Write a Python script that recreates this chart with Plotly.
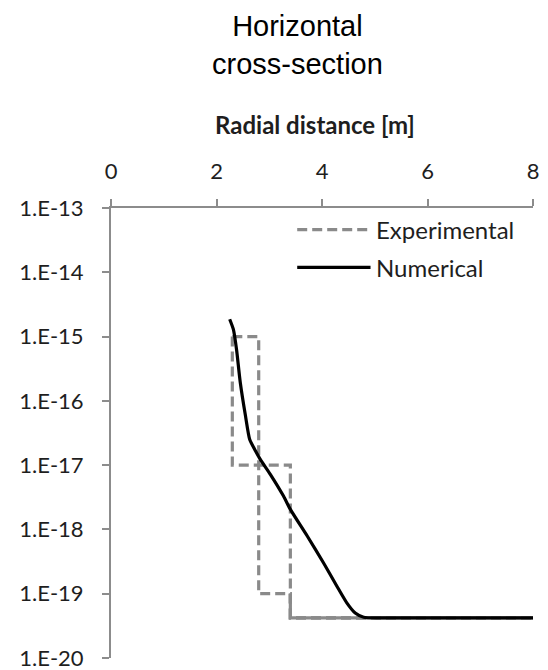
import plotly.graph_objects as go

# Radial distance [m] and permeability for the horizontal cross-section
exp_upper_x = [2.3, 2.8, 2.8, 3.4, 3.4, 8.0]
exp_upper_y = [1e-15, 1e-15, 1e-19, 1e-19, 4.2e-20, 4.2e-20]
exp_lower_x = [2.3, 2.3, 3.4, 3.4, 8.0]
exp_lower_y = [1e-15, 1e-17, 1e-17, 4.2e-20, 4.2e-20]

num_x = [2.25, 2.32, 2.38, 2.45, 2.55, 2.63, 2.74, 2.83, 3.02, 3.27, 3.40,
         3.72, 4.03, 4.28, 4.47, 4.63, 4.79, 5.11, 8.0]
num_y = [1.86e-15, 1.29e-15, 6.3e-16, 1.95e-16, 5.8e-17, 2.5e-17, 1.66e-17,
         1.23e-17, 7.2e-18, 3.3e-18, 2.05e-18, 7.9e-19, 3.0e-19, 1.32e-19,
         7.2e-20, 5.0e-20, 4.3e-20, 4.2e-20, 4.2e-20]

x_ticks = [0, 2, 4, 6, 8]
y_tickvals = [1e-13, 1e-14, 1e-15, 1e-16, 1e-17, 1e-18, 1e-19, 1e-20]
y_ticktext = ["1.E-13", "1.E-14", "1.E-15", "1.E-16", "1.E-17", "1.E-18",
              "1.E-19", "1.E-20"]

GRAY = "#8a8a8a"
AXIS = "#8c8c8c"
TEXT = "#1e1e1e"
FONT = "Lato"
DASH = "10px,5px"

fig = go.Figure()
for xs, ys in [(exp_upper_x, exp_upper_y), (exp_lower_x, exp_lower_y)]:
    fig.add_trace(go.Scatter(
        x=xs, y=ys, mode="lines", showlegend=False, hoverinfo="skip",
        line=dict(color=GRAY, width=3.2, dash=DASH),
    ))
# Where both bounds coincide the overlapping dashes read as one solid line
fig.add_trace(go.Scatter(
    x=exp_upper_x[3:], y=exp_upper_y[3:], mode="lines", showlegend=False,
    hoverinfo="skip", line=dict(color=GRAY, width=3.2),
))
fig.add_trace(go.Scatter(
    x=num_x, y=num_y, mode="lines", showlegend=False,
    line=dict(color="black", width=3.2, shape="spline", smoothing=0.6),
))

# Hand-placed legend (samples + labels) in the top-right of the plot
legend_rows = [("Experimental", GRAY, DASH, 0.952),
               ("Numerical", "black", "solid", 0.868)]
for label, color, dash, yp in legend_rows:
    fig.add_shape(type="line", xref="x", yref="paper", x0=3.53, x1=4.92,
                  y0=yp, y1=yp, line=dict(color=color, width=3.2, dash=dash))
    fig.add_annotation(x=4.99, y=yp, xref="x", yref="paper", text=label,
                       showarrow=False, xanchor="left", yanchor="middle",
                       font=dict(family=FONT, size=24, color=TEXT))

fig.add_annotation(x=3.87, y=1.186, xref="x", yref="paper",
                   text="<b>Radial distance [m]</b>", showarrow=False,
                   xanchor="center", yanchor="middle",
                   font=dict(family=FONT, size=24, color=TEXT))

fig.add_annotation(x=0.442, y=1.444, xref="paper", yref="paper",
                   text="Horizontal<br>cross-section", showarrow=False,
                   xanchor="center", yanchor="top", align="center",
                   font=dict(family="Liberation Sans, Arial", size=29,
                             color="black"))

fig.update_layout(
    width=548, height=670,
    margin=dict(l=111, r=15, t=208, b=12, autoexpand=False),
    paper_bgcolor="white", plot_bgcolor="white",
    xaxis=dict(
        side="top", range=[0, 8], tickvals=x_ticks, automargin=False,
        showgrid=False, zeroline=False, showline=True, linecolor=AXIS,
        linewidth=2, ticks="outside", ticklen=7, tickwidth=2, tickcolor=AXIS,
        tickfont=dict(family=FONT, size=22, color=TEXT), ticklabelstandoff=11,
    ),
    yaxis=dict(
        type="log", range=[-20.0005, -13], tickvals=y_tickvals,
        ticktext=y_ticktext, ticklabeloverflow="allow", automargin=False,
        showgrid=False, zeroline=False, showline=True, linecolor=AXIS,
        linewidth=2, ticks="outside", ticklen=7, tickwidth=2, tickcolor=AXIS,
        tickfont=dict(family=FONT, size=22, color=TEXT), ticklabelstandoff=14,
    ),
)

fig.write_html("out.html")
